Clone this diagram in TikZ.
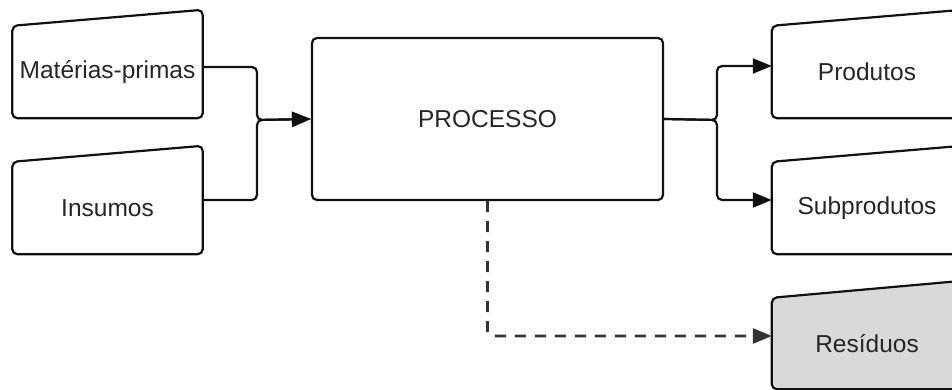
\documentclass[tikz,border=0pt]{standalone}
\usepackage{fontspec}
\setmainfont{Liberation Sans}
\usetikzlibrary{arrows.meta,calc}
\definecolor{ink}{HTML}{111111}
\definecolor{txt}{HTML}{262626}
\definecolor{dash}{HTML}{333333}
\definecolor{resfill}{HTML}{D9D9D9}
\tikzset{
  inbox/.style={minimum width=190pt, minimum height=90pt, inner sep=0pt, text=txt,
    font=\fontsize{24.5}{28}\selectfont},
  procbox/.style={draw=ink, line width=2.2pt, rounded corners=5pt, minimum width=351pt,
    minimum height=162pt, inner sep=0pt, text=txt, font=\fontsize{24.5}{28}\selectfont},
  shapeline/.style={draw=ink, line width=2.2pt, rounded corners=5pt},
  conn/.style={draw=ink, line width=2.2pt, rounded corners=5pt,
    -{Triangle[length=19pt,width=15pt]}},
  dconn/.style={conn, draw=dash, line width=2.8pt, dash pattern=on 11pt off 9pt}
}
\begin{document}
\begin{tikzpicture}[x=1pt,y=-1pt]
\useasboundingbox (0,0) rectangle (952,390);
% nodes
\node[inbox] (mp) at (107.5,72) {Matérias-primas};
\node[inbox] (ins) at (107.5,208) {Insumos};
\node[procbox] (proc) at (487.5,119) {PROCESSO};
\node[inbox] (prod) at (867,72) {Produtos};
\node[inbox] (sub) at (867,208) {Subprodutos};
\node[inbox, minimum height=89pt] (res) at (867,343.5) {Resíduos};
% shapes (manual input)
\foreach \n in {mp,ins,prod,sub}{
  \draw[shapeline] ([yshift=-1pt]\n.south west) -- ([yshift=1pt]\n.north west)
    -- ([yshift=17pt]\n.north east) -- ([yshift=-1pt]\n.south east) -- cycle;
}
\filldraw[shapeline, fill=resfill] ([yshift=-1pt]res.south west) -- ([yshift=1pt]res.north west)
  -- ([yshift=18pt]res.north east) -- ([yshift=-1pt]res.south east) -- cycle;
\node[inbox] at (res) {Resíduos};
% junctions
\coordinate (jl) at (257,120);
\coordinate (jr) at (717,120);
% connectors
\draw[conn] ([yshift=5pt]mp.east) -| (jl) -- (proc.west);
\draw[conn] ([yshift=8pt]ins.east) -| (jl) -- (proc.west);
\draw[conn] (proc.east) -- (jr) |- ([yshift=6pt]prod.west);
\draw[conn] (proc.east) -- (jr) |- ([yshift=8pt]sub.west);
\draw[dconn] (proc.south) |- ([yshift=7.5pt]res.west);
\end{tikzpicture}
\end{document}
